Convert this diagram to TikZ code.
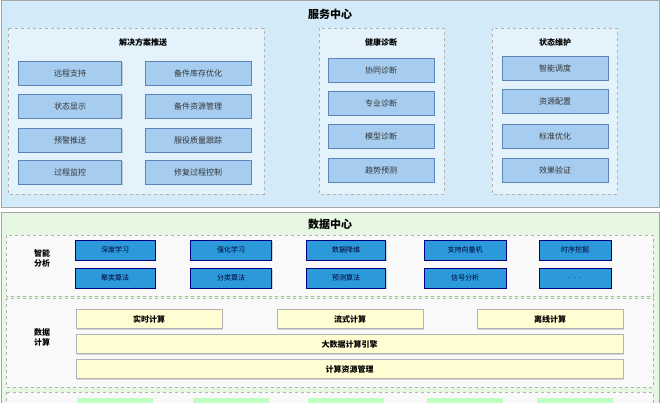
\documentclass[tikz,border=0pt]{standalone}
\usepackage{fontspec}
\setmainfont{Noto Sans CJK SC}
\usetikzlibrary{shadows}
\definecolor{svcbg}{HTML}{D3EAF8}
\definecolor{svcpan}{HTML}{E4F2FB}
\definecolor{sboxc}{HTML}{A6CDF0}
\definecolor{sboxd}{HTML}{5C84B8}
\definecolor{aboxc}{HTML}{2C9ADA}
\definecolor{dcbg}{HTML}{E6F8E2}
\begin{document}
\begin{tikzpicture}[x=1pt,y=-1pt,
 panel/.style={draw=gray!60,dashed,fill=#1},
 sbox/.style={draw=sboxd,fill=sboxc,font=\fontsize{8}{9}\selectfont,text=black!80,drop shadow={shadow xshift=1pt,shadow yshift=-1pt,fill=gray!70},inner sep=0pt},
 abox/.style={draw=blue!50!black,fill=aboxc,font=\fontsize{7}{8}\selectfont,text=blue!20!black,drop shadow={shadow xshift=1pt,shadow yshift=-1pt,fill=gray!70},inner sep=0pt},
 ybox/.style={draw=gray!60,fill=yellow!18,font=\fontsize{8}{9}\selectfont\bfseries,drop shadow={shadow xshift=1pt,shadow yshift=-1pt,fill=gray!60},inner sep=0pt,minimum height=19pt},
 ttl/.style={font=\fontsize{11}{12}\selectfont\bfseries},
 sttl/.style={font=\fontsize{8}{9}\selectfont\bfseries},
 lbl/.style={font=\fontsize{8}{10}\selectfont\bfseries,align=center}]
\useasboundingbox (0,0) rectangle (660,403);
\fill[white] (0,0) rectangle (660,403);
% service center
\draw[gray!70,fill=svcbg] (1,0) rectangle (659,207);
\node[ttl] (sc) at (330,14) {服务中心};
\draw[panel=svcpan] (8,28) rectangle (264,194);
\draw[panel=svcpan] (319,28) rectangle (444,194);
\draw[panel=svcpan] (492,28) rectangle (617,194);
\node[sttl] (t1) at (143,42) {解决方案推送};
\node[sttl] (t2) at (381,42) {健康诊断};
\node[sttl] (t3) at (555,42) {状态维护};
\foreach \n/\y/\a/\b in {1/73/远程支持/备件库存优化,2/106/状态显示/备件资源管理,3/140/预警推送/服役质量跟踪,4/172/过程监控/修复过程控制}{
 \node[sbox,minimum width=103pt,minimum height=24pt] (l\n) at (70,\y) {\a};
 \node[sbox,minimum width=106pt,minimum height=24pt] (r\n) at (198,\y) {\b};}
\foreach \n/\y/\a in {1/70/协同诊断,2/103/专业诊断,3/136/模型诊断,4/170/趋势预测}
 \node[sbox,minimum width=106pt,minimum height=24pt] (h\n) at (381,\y) {\a};
\foreach \n/\y/\a in {1/68/智能调度,2/101/资源配置,3/136/标准优化,4/170/效果验证}
 \node[sbox,minimum width=106pt,minimum height=24pt] (m\n) at (555,\y) {\a};
% data center
\draw[gray!70,fill=dcbg] (1,212) rectangle (659,410);
\node[ttl] (dc) at (330,224) {数据中心};
\draw[panel=gray!5] (6,235) rectangle (653,296);
\node[lbl] (la) at (42,258) {智能\\分析};
\foreach \n/\x/\w/\a/\b in {1/115/80/深度学习/聚类算法,2/231/81/强化学习/分类算法,3/346/79/数据降维/预测算法,4/465/82/支持向量机/信号分析,5/575/72/时序挖掘/{.\ \ .\ \ .}}{
 \node[abox,minimum width=\w pt,minimum height=20pt] (a\n) at (\x,250) {\a};
 \node[abox,minimum width=\w pt,minimum height=20pt] (b\n) at (\x,278) {\b};}
\draw[panel=gray!5] (6,298) rectangle (653,387);
\node[lbl] (lc) at (42,337) {数据\\计算};
\node[ybox,minimum width=146pt] (y1) at (149,319) {实时计算};
\node[ybox,minimum width=146pt] (y2) at (350,319) {流式计算};
\node[ybox,minimum width=146pt] (y3) at (550,319) {离线计算};
\node[ybox,minimum width=547pt] (y4) at (349.5,344) {大数据计算引擎};
\node[ybox,minimum width=547pt] (y5) at (349.5,369) {计算资源管理};
\draw[panel=gray!5] (6,392) rectangle (653,410);
\foreach \n/\x in {1/115,2/231,3/346,4/465,5/575}
 \fill[green!25] (\x-38,398) rectangle (\x+38,405);
\end{tikzpicture}
\end{document}
